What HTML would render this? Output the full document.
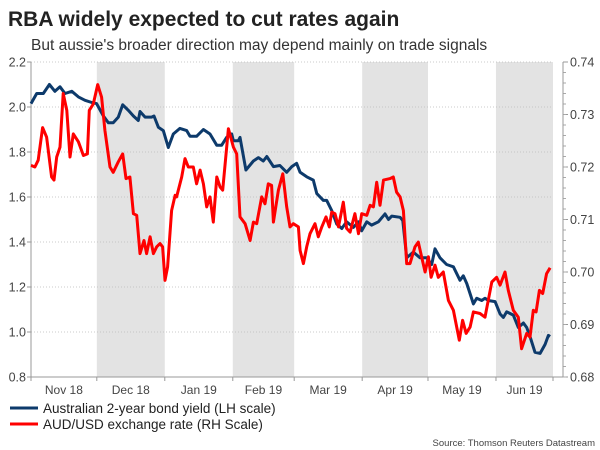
<!DOCTYPE html>
<html><head><meta charset="utf-8"><style>
body{margin:0;width:600px;height:450px;background:#fff;overflow:hidden;font-family:"Liberation Sans",sans-serif}
svg{position:absolute;left:0;top:0}
</style></head><body>
<svg id="c" width="600" height="450">
<text x="8" y="26" font-size="21" font-weight="bold" fill="#222">RBA widely expected to cut rates again</text>
<text x="31" y="50" font-size="15.5" fill="#333">But aussie's broader direction may depend mainly on trade signals</text>
<g id="shade"></g><g id="grid"></g><g id="axes"></g><g id="series"></g>
<g>
<line x1="10" y1="408" x2="38" y2="408" stroke="#0d3a6b" stroke-width="3"/>
<text x="43" y="413" font-size="13.5" fill="#222">Australian 2-year bond yield (LH scale)</text>
<line x1="10" y1="424" x2="38" y2="424" stroke="#ff0000" stroke-width="3"/>
<text x="43" y="429" font-size="13.5" fill="#222">AUD/USD exchange rate (RH Scale)</text>
</g>
<text x="595" y="446" font-size="9.5" fill="#444" text-anchor="end">Source: Thomson Reuters Datastream</text>
</svg>
<script>
const months=["Nov 18","Dec 18","Jan 19","Feb 19","Mar 19","Apr 19","May 19","Jun 19"];
const monthStartDays=[0,30,61,92,120,151,181,212];
const shadedMonths=[1,3,5,7];
const leftTicks=[0.8,1.0,1.2,1.4,1.6,1.8,2.0,2.2];
const rightTicks=[0.68,0.69,0.70,0.71,0.72,0.73,0.74];
const blueDays=[0,2.6,5.6,8.4,10.9,13.2,15.5,18.6,21.6,24.6,27.7,29.9,33,35.3,37.5,39.8,41.8,44.4,46.7,48.9,49.7,52,55,56.1,58.1,60.3,62.6,64.9,67.9,71,72.5,75.5,78.6,81.6,84.7,86.9,89.2,91.5,92.3,94.5,95.3,98,101.4,103.7,105.9,107.5,110.5,113.5,116.6,118.9,121.1,122.7,125.7,128.7,130.3,133.3,134.8,137.1,139.4,141.7,143.9,147,149.3,150.8,153.1,155.3,158.4,161.4,163,164.5,168.3,169.5,171.3,174.3,177.4,180.4,182.7,184.2,186.5,189.5,192.6,195.6,197.1,198.7,201.7,203.2,205.5,207,208.5,211.6,213.9,215.4,216.9,219.9,222.2,224.5,226,227.5,229.8,232.1,234.4,235.9,236.7];
const blueVals=[2.015,2.06,2.06,2.10,2.07,2.09,2.06,2.07,2.045,2.03,2.02,2.015,1.96,1.93,1.93,1.955,2.01,1.985,1.96,1.94,1.98,1.955,1.955,1.96,1.91,1.895,1.82,1.88,1.905,1.895,1.87,1.87,1.90,1.88,1.83,1.83,1.865,1.88,1.85,1.85,1.865,1.72,1.76,1.775,1.76,1.78,1.735,1.74,1.71,1.735,1.75,1.71,1.69,1.675,1.615,1.585,1.585,1.54,1.48,1.46,1.49,1.465,1.49,1.45,1.49,1.475,1.49,1.525,1.50,1.515,1.51,1.495,1.33,1.355,1.33,1.33,1.30,1.37,1.33,1.30,1.29,1.23,1.25,1.215,1.125,1.15,1.14,1.15,1.14,1.135,1.08,1.065,1.09,1.075,1.02,1.04,1.02,0.98,0.91,0.905,0.945,0.985,0.98];
const redDays=[0,1.8,3.3,5.3,7.1,9.4,10.5,11.7,13.2,14.7,16.3,17.8,19.3,21.6,23.9,25.7,26.6,28.4,30.4,32.2,33.7,36,37.5,39.8,41.8,43.3,45.1,46.7,48.2,49.7,51.5,52.7,54.3,55.8,57.3,58.8,60,61.1,62.3,64.1,65.7,66.4,68.7,70.2,71.7,74,75.5,77.1,78.6,80.1,81.6,83.1,84.7,86.2,87.4,90,92.3,93.8,95.3,97.6,99.9,101.4,102.9,105.2,106.7,108.2,109.7,110.5,112.8,114.8,116.6,118.1,119.6,121.9,122.7,124.2,125.7,127.2,129.5,131,132.6,134.5,136,137.1,138.6,140.2,142.4,143.9,145.5,147.7,149.3,150.8,153.1,154.6,156.1,157.6,159.1,160.7,163.7,165.2,166.7,168.3,169.8,171.3,172.8,175.1,176.6,178.1,179.7,181.2,182.4,184.2,185.7,188,190.3,192.6,195.3,196.8,198.4,200.2,201.7,204.7,207,210.1,212.3,213.9,216.1,217.6,219.9,222.2,223.7,226,227.5,229,230.3,231.8,233.3,235.1,236.7];
const redVals=[0.7203,0.72,0.7213,0.7275,0.7257,0.7181,0.7175,0.7219,0.7238,0.734,0.7308,0.7219,0.7263,0.7248,0.7222,0.7225,0.7308,0.732,0.7357,0.7333,0.727,0.72,0.719,0.721,0.7225,0.7178,0.7181,0.7111,0.7108,0.7035,0.706,0.7035,0.7067,0.7035,0.7048,0.7054,0.7048,0.6984,0.701,0.7117,0.7146,0.7143,0.7181,0.7216,0.72,0.72,0.7168,0.7194,0.7168,0.7124,0.7143,0.7095,0.7181,0.7162,0.7156,0.7273,0.7238,0.7225,0.7105,0.7092,0.706,0.7095,0.7092,0.7143,0.713,0.7168,0.7165,0.7095,0.7156,0.7187,0.7124,0.7086,0.7092,0.7086,0.7041,0.7016,0.7048,0.7073,0.7092,0.7067,0.7086,0.7105,0.7086,0.7114,0.7111,0.7086,0.7133,0.7083,0.7076,0.7111,0.7073,0.7111,0.7108,0.7127,0.7124,0.7171,0.7127,0.7175,0.7178,0.7181,0.7152,0.7143,0.7117,0.7016,0.7016,0.7048,0.7057,0.7029,0.70,0.7029,0.699,0.7013,0.699,0.70,0.6946,0.6927,0.687,0.6908,0.6883,0.6895,0.6924,0.6921,0.6914,0.6981,0.699,0.6975,0.70,0.6965,0.6927,0.6914,0.6854,0.6883,0.6876,0.6927,0.6924,0.6965,0.6959,0.6997,0.7008];

const L=31,R=553,T=62,B=377,RA=563,DMAX=238;
const x=d=>L+(d/DMAX)*(R-L);
const yL=v=>B-(v-0.8)/(2.2-0.8)*(B-T);
const yR=v=>B-(v-0.68)/(0.74-0.68)*(B-T);
const NS="http://www.w3.org/2000/svg";
function mk(tag,attrs,parent){const e=document.createElementNS(NS,tag);for(const k in attrs)e.setAttribute(k,attrs[k]);document.getElementById(parent).appendChild(e);return e;}
const bounds=monthStartDays.concat([DMAX]);
shadedMonths.forEach(i=>{
  const r=mk('rect',{x:x(bounds[i]),y:T,width:x(bounds[i+1])-x(bounds[i]),height:B-T,fill:'#e3e3e3'},'shade');
  
  
});
leftTicks.forEach(v=>{
  const g=mk('line',{x1:L,x2:R,y1:yL(v),y2:yL(v),stroke:'#bbb','stroke-dasharray':'1,2','stroke-width':0.8},'grid');
  
  
  mk('line',{x1:L-4,x2:L,y1:yL(v),y2:yL(v),stroke:'#999'},'axes');
  const t=mk('text',{x:L-5,y:yL(v)+4.5,'font-size':12.5,fill:'#444','text-anchor':'end'},'axes');
  t.textContent=v.toFixed(1);
  
  
});
rightTicks.forEach(v=>{
  mk('line',{x1:RA,x2:RA+5,y1:yR(v),y2:yR(v),stroke:'#999'},'axes');
  const t=mk('text',{x:RA+7,y:yR(v)+4.5,'font-size':12.5,fill:'#444'},'axes');
  t.textContent=v.toFixed(2);
  
  
});
for(let i=0;i<30;i++){const v=0.68+i*0.002;mk('line',{x1:RA,x2:RA+3,y1:yR(v),y2:yR(v),stroke:'#aaa'},'axes');}
mk('line',{x1:L,x2:L,y1:T,y2:B,stroke:'#999'},'axes');
mk('line',{x1:RA,x2:RA,y1:T,y2:B,stroke:'#999'},'axes');
mk('line',{x1:L,x2:RA,y1:B,y2:B,stroke:'#999'},'axes');
bounds.forEach(d=>mk('line',{x1:x(d),x2:x(d),y1:B,y2:B+4,stroke:'#999'},'axes'));
months.forEach((m,i)=>{
  const t=mk('text',{x:(x(bounds[i])+x(bounds[i+1]))/2,y:394,'font-size':12,fill:'#444','text-anchor':'middle'},'axes');
  t.textContent=m;
  
  
});
function path(days,vals,ys){const n=Math.min(days.length,vals.length);let s='';for(let i=0;i<n;i++)s+=(i?'L':'M')+x(days[i]).toFixed(1)+','+ys(vals[i]).toFixed(1);return s;}
const pb=mk('path',{d:path(blueDays,blueVals,yL),fill:'none',stroke:'#0d3a6b','stroke-width':3,'stroke-linejoin':'round'},'series');


const pr=mk('path',{d:path(redDays,redVals,yR),fill:'none',stroke:'#ff0000','stroke-width':3,'stroke-linejoin':'round'},'series');


</script>
</body></html>
